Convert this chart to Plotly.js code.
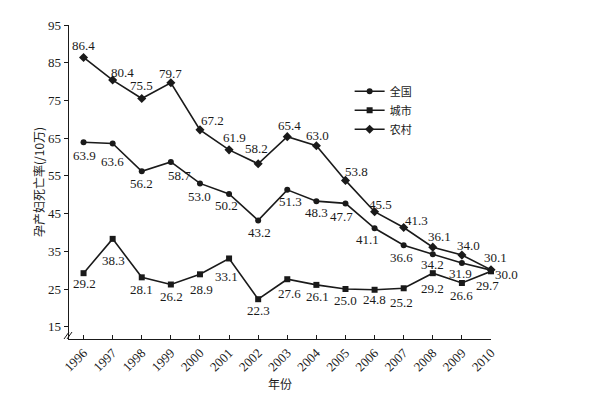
<!DOCTYPE html>
<html><head><meta charset="utf-8">
<script src="https://cdn.plot.ly/plotly-3.0.1.min.js"></script>
<style>html,body{margin:0;padding:0;background:#fff}#c{width:600px;height:396px}</style>
</head><body><div id="c"></div>
<script>
const years = [1996,1997,1998,1999,2000,2001,2002,2003,2004,2005,2006,2007,2008,2009,2010];
const national = [63.9,63.6,56.2,58.7,53.0,50.2,43.2,51.3,48.3,47.7,41.1,36.6,34.2,31.9,30.0];
const urban = [29.2,38.3,28.1,26.2,28.9,33.1,22.3,27.6,26.1,25.0,24.8,25.2,29.2,26.6,29.7];
const rural = [86.4,80.4,75.5,79.7,67.2,61.9,58.2,65.4,63.0,53.8,45.5,41.3,36.1,34.0,30.1];
const names = ['全国','城市','农村'];
const yTicks = [15,25,35,45,55,65,75,85,95];

// label offsets in pixels from each point [dx, dy] (dy down positive)
const natOff = [[1,13],[0,18],[0,12],[9,14],[0,13],[-3,12],[1,12],[3,12],[0,11],[-4,13],[-7,11],[-2,12],[0,10],[-1,10],[15,4]];
const urbOff = [[1,10],[1,22],[0,12],[1,12],[2,15],[-3,18],[0,11],[2,14],[1,12],[0,11],[0,10],[-2,14],[0,15],[0,13],[-4,14]];
const rurOff = [[0,-12],[10,-8],[0,-13],[0,-9],[13,-9],[5,-12],[-2,-15],[2,-11],[1,-10],[11,-9],[6,-7],[13,-7],[7,-11],[7,-10],[4,-12]];

const ink = '#1a1a1a';
const numFont = {family:'Liberation Serif, DejaVu Serif, serif', size:13, color:ink};
const cjk = 'Noto Sans CJK SC, sans-serif';

function lineTrace(y, name, symbol, size){
  return {x:years, y:y, name:name, type:'scatter', mode:'lines+markers', cliponaxis:false,
    line:{color:ink, width:1.6}, marker:{symbol:symbol, size:size, color:ink}};
}
function labels(y, off){
  return y.map((v,i)=>({x:years[i], y:v, xref:'x', yref:'y', text:v.toFixed(1), showarrow:false,
    xanchor:'center', yanchor:'middle', xshift:off[i][0], yshift:-off[i][1], font:numFont}));
}
const data = [
  lineTrace(national, names[0], 'circle', 6),
  lineTrace(urban, names[1], 'square', 6),
  lineTrace(rural, names[2], 'diamond', 7)
];
const yTitle = {xref:'paper', yref:'paper', x:0, y:0.5, xshift:-31, xanchor:'center', yanchor:'middle',
  textangle:-90, showarrow:false, text:'孕产妇死亡率(/10万)', font:{family:cjk, size:12, color:ink}};
const layout = {
  width:600, height:396,
  margin:{l:69, r:109, t:25, b:57},
  paper_bgcolor:'#fff', plot_bgcolor:'#fff',
  showlegend:true,
  legend:{x:0.665, y:0.835, xanchor:'left', yanchor:'top', font:{family:cjk, size:11, color:ink}, bgcolor:'rgba(0,0,0,0)', tracegroupgap:0, itemwidth:30},
  xaxis:{range:[1995.5,2010], tickmode:'array', tickvals:years, ticktext:years.map(String), tickangle:-45,
    showgrid:false, zeroline:false, showline:true, linecolor:ink, linewidth:1.3,
    ticks:'inside', ticklen:4, tickcolor:ink, tickfont:numFont,
    title:{text:'年份', font:{family:cjk, size:12, color:ink}, standoff:6}},
  yaxis:{range:[11.75,95], tickmode:'array', tickvals:yTicks, showgrid:false, zeroline:false, showline:true,
    linecolor:ink, linewidth:1.3, ticks:'outside', ticklen:4, tickcolor:ink, tickfont:numFont},
  annotations:[yTitle].concat(labels(national, natOff), labels(urban, urbOff), labels(rural, rurOff)),
  shapes:[
    {type:'line', xref:'paper', yref:'paper', xsizemode:'pixel', ysizemode:'pixel', xanchor:0, yanchor:0, x0:-5, x1:0, y0:0, y1:7, line:{color:ink, width:1}},
    {type:'line', xref:'paper', yref:'paper', xsizemode:'pixel', ysizemode:'pixel', xanchor:0, yanchor:0, x0:-2, x1:3, y0:0, y1:7, line:{color:ink, width:1}}
  ]
};
Plotly.newPlot('c', data, layout, {displayModeBar:false, staticPlot:true});
</script></body></html>
